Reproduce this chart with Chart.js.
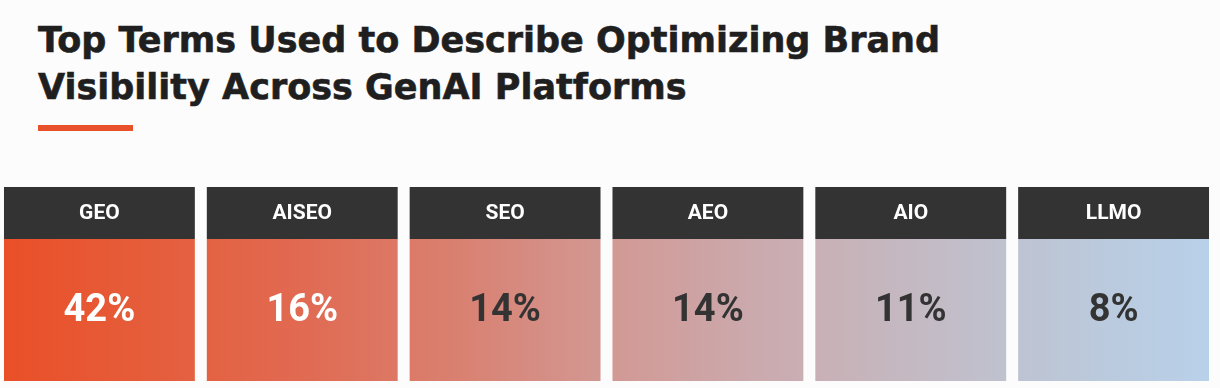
<!DOCTYPE html>
<html>
<head>
<meta charset="utf-8">
<script src="https://cdn.jsdelivr.net/npm/chart.js@4"></script>
<style>
  html, body { margin: 0; padding: 0; background: #fcfcfc; }
  body { width: 1220px; height: 388px; position: relative; overflow: hidden; }
  #title {
    position: absolute; left: 38px; top: 17px;
    font-family: "DejaVu Sans", sans-serif; font-weight: bold;
    font-size: 35px; line-height: 47px; color: #1f1f1f; letter-spacing: 0;
    -webkit-text-stroke: 0.6px #1f1f1f;
    white-space: nowrap;
  }
  #rule { position: absolute; left: 38px; top: 125px; width: 95px; height: 6px; background: #e9512b; }
  #wrap { position: absolute; left: -2px; top: 0; width: 1220px; height: 388px; }
</style>
</head>
<body>
<div id="title">Top Terms Used to Describe Optimizing Brand<br>Visibility Across GenAI Platforms</div>
<div id="rule"></div>
<div id="wrap"><canvas id="tiles"></canvas></div>
<script>
// terms and share of respondents (%)
const terms = ['GEO', 'AISEO', 'SEO', 'AEO', 'AIO', 'LLMO'];
const shares = [42, 16, 14, 14, 11, 8];

// styling
const valueColors = ['#ffffff', '#ffffff', '#333333', '#333333', '#333333', '#333333'];
const gradientStops = ['#ea4f27', '#e55d3b', '#e16a52', '#d98070', '#d29893', '#cbaaae', '#c4b9c2', '#bcc7d8', '#b8d1ea'];

document.addEventListener("DOMContentLoaded", () => {
    const ctx = document.getElementById('tiles').getContext('2d');

    function bodyFill(context) {
        const area = context.chart.chartArea;
        if (!area) return gradientStops[0];
        const g = context.chart.ctx.createLinearGradient(area.left, 0, area.right, 0);
        gradientStops.forEach((c, i) => g.addColorStop(i / (gradientStops.length - 1), c));
        return g;
    }

    const tileText = {
        id: 'tileText',
        afterDatasetsDraw(chart) {
            const c = chart.ctx;
            const head = chart.getDatasetMeta(0).data;
            const body = chart.getDatasetMeta(1).data;
            c.save();
            c.textAlign = 'center';
            c.textBaseline = 'middle';
            terms.forEach((t, i) => {
                c.fillStyle = '#ffffff';
                c.font = 'bold 21px Roboto';
                c.fillText(t, head[i].x, (head[i].y + head[i].base) / 2 + 1);
                c.fillStyle = valueColors[i];
                c.font = 'bold 38px Roboto';
                c.fillText(shares[i] + '%', body[i].x, (body[i].y + body[i].base) / 2 + 2);
            });
            c.restore();
        }
    };

    new Chart(ctx, {
        type: 'bar',
        data: {
            labels: terms,
            datasets: [{
                label: 'header',
                data: terms.map(() => [1, 1.366]),
                backgroundColor: '#333333',
                grouped: false
            }, {
                label: 'share',
                data: shares.map(() => [0, 1]),
                backgroundColor: bodyFill,
                grouped: false
            }]
        },
        options: {
            responsive: true,
            maintainAspectRatio: false,
            animation: false,
            layout: { padding: { top: 187, bottom: 7, left: 0, right: 3 } },
            datasets: { bar: { categoryPercentage: 1, barPercentage: 0.941 } },
            scales: {
                x: { display: false },
                y: { display: false, min: 0, max: 1.366 }
            },
            plugins: { legend: { display: false }, tooltip: { enabled: false } }
        },
        plugins: [tileText]
    });
});
</script>
</body>
</html>
